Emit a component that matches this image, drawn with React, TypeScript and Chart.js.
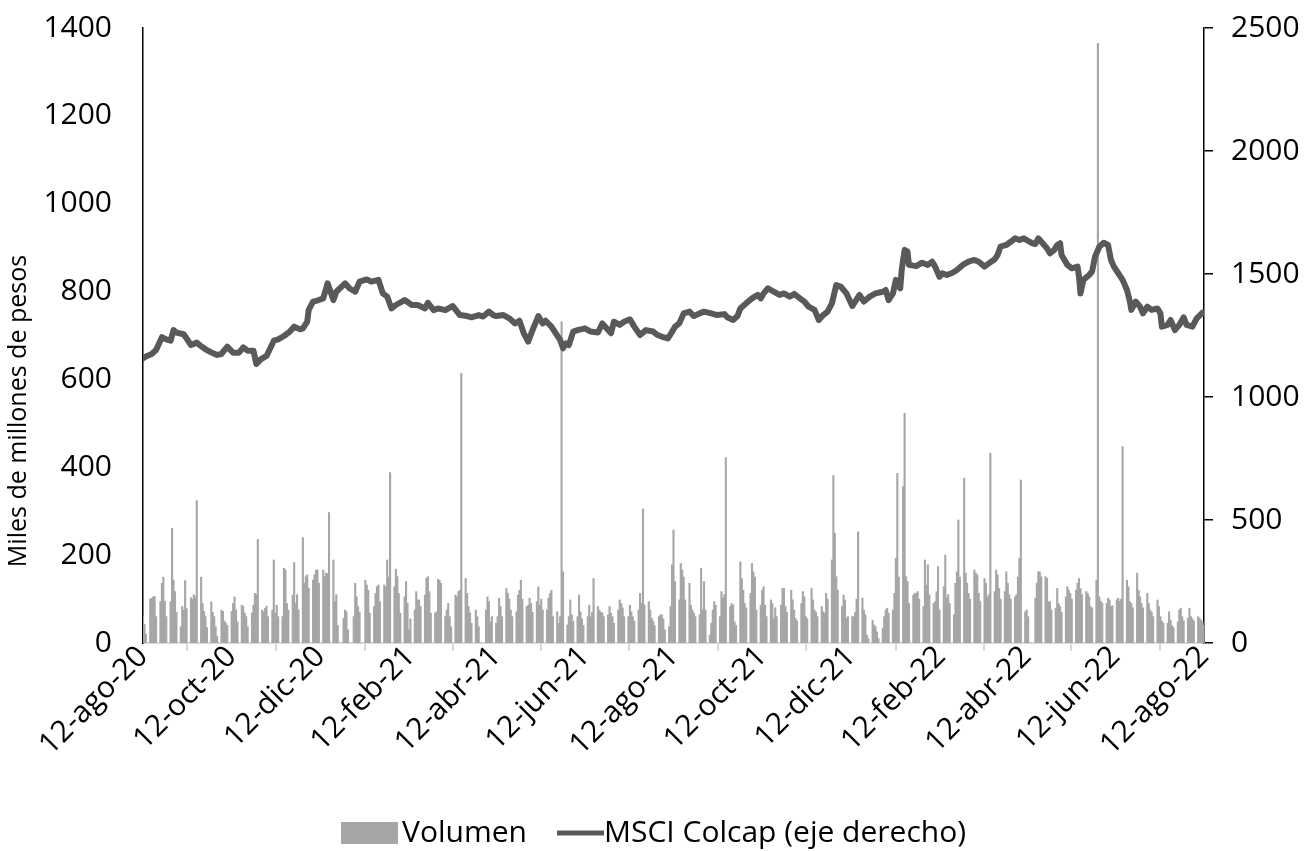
import React, { useEffect, useRef } from "react";
import { Chart, registerables } from "chart.js";

Chart.register(...registerables);

const FONT = "'Open Sans', 'DejaVu Sans', sans-serif";

// Eje X: fechas de las marcas y sus etiquetas
const startDate = "2020-08-12";
const endDate = "2022-08-12";
const tickDates = [
  "2020-08-12", "2020-10-12", "2020-12-12", "2021-02-12", "2021-04-12", "2021-06-12", "2021-08-12",
  "2021-10-12", "2021-12-12", "2022-02-12", "2022-04-12", "2022-06-12", "2022-08-12",
];
const tickLabels = [
  "12-ago-20", "12-oct-20", "12-dic-20", "12-feb-21", "12-abr-21", "12-jun-21", "12-ago-21",
  "12-oct-21", "12-dic-21", "12-feb-22", "12-abr-22", "12-jun-22", "12-ago-22",
];

const seriesLabels = ["Volumen", "MSCI Colcap (eje derecho)"];

// Volumen diario (miles de millones de pesos), días hábiles desde 12-ago-20, una semana por renglón
const volumen = [
  60, 42, 20,
  100, 102, 105, 106, 60,
  94, 136, 150, 95, 60,
  94, 261, 143, 117, 70,
  37, 83, 75, 142, 78,
  103, 100, 110, 105, 324,
  150, 90, 72, 60, 35,
  94, 70, 60, 37, 15,
  75, 72, 50, 45, 40,
  72, 90, 105, 75, 48,
  86, 83, 68, 60, 37,
  68, 86, 113, 110, 236,
  75, 71, 79, 84, 60,
  75, 189, 68, 86, 60,
  60, 170, 166, 90, 75,
  109, 183, 90, 110, 75,
  240, 136, 151, 155, 125,
  143, 155, 166, 166, 136,
  166, 151, 159, 158, 297,
  189, 94, 110, 40, 0,
  56, 75, 71, 30, 0,
  60, 136, 105, 83, 70,
  0, 143, 132, 120, 68,
  83, 113, 128, 132, 94,
  132, 128, 189, 150, 388,
  128, 168, 151, 113, 68,
  105, 140, 90, 30, 55,
  75, 117, 98, 98, 83,
  109, 147, 151, 117, 68,
  68, 71, 145, 143, 136,
  60, 75, 90, 60, 37,
  109, 105, 117, 120, 614,
  147, 113, 83, 68, 45,
  75, 60, 37, 0, 0,
  75, 105, 94, 48, 60,
  45, 60, 102, 83, 60,
  124, 113, 100, 75, 60,
  71, 109, 120, 143, 100,
  83, 86, 102, 90, 70,
  94, 128, 86, 100, 75,
  75, 102, 113, 120, 60,
  71, 45, 60, 731, 162,
  41, 60, 98, 64, 50,
  60, 109, 71, 55, 40,
  60, 86, 60, 70, 147,
  83, 75, 70, 69, 60,
  64, 83, 68, 60, 45,
  75, 98, 90, 80, 60,
  60, 86, 71, 60, 50,
  75, 113, 90, 305, 86,
  94, 75, 56, 50, 40,
  60, 64, 64, 55, 30,
  37, 83, 178, 257, 140,
  98, 181, 166, 150, 98,
  136, 86, 75, 68, 60,
  64, 170, 75, 140, 75,
  18, 45, 75, 94, 86,
  60, 117, 102, 110, 422,
  83, 90, 86, 48, 40,
  185, 147, 120, 90, 80,
  113, 181, 162, 150, 75,
  86, 120, 128, 86, 60,
  98, 90, 56, 80, 60,
  86, 124, 124, 83, 70,
  120, 98, 75, 56, 50,
  90, 117, 105, 60, 55,
  124, 98, 75, 70, 60,
  83, 71, 68, 113, 100,
  189, 381, 250, 151, 120,
  83, 109, 98, 56, 60,
  60, 60, 70, 100, 253,
  102, 75, 64, 18, 10,
  52, 41, 37, 25, 10,
  33, 60, 75, 79, 68,
  75, 113, 193, 386, 150,
  356, 523, 151, 140, 90,
  109, 113, 113, 117, 100,
  83, 189, 132, 178, 110,
  90, 94, 117, 174, 75,
  128, 200, 102, 110, 90,
  64, 136, 162, 280, 150,
  375, 159, 136, 113, 100,
  166, 159, 155, 113, 95,
  147, 136, 105, 110, 432,
  117, 166, 155, 124, 100,
  117, 162, 136, 110, 100,
  105, 110, 150, 193, 371,
  71, 75, 60, 0, 0,
  102, 136, 162, 162, 151,
  151, 147, 94, 94, 75,
  79, 124, 90, 83, 70,
  105, 128, 120, 113, 100,
  120, 136, 147, 124, 110,
  117, 113, 105, 83, 80,
  143, 1365, 105, 95, 90,
  90, 102, 98, 83, 85,
  98, 102, 95, 100, 447,
  143, 128, 94, 90, 80,
  159, 120, 105, 90, 80,
  113, 90, 75, 70, 60,
  98, 83, 60, 50, 45,
  45, 71, 52, 40, 35,
  48, 75, 79, 60, 50,
  56, 79, 60, 55, 50,
  60, 56, 52, 48, 40,
];

// MSCI Colcap: días transcurridos desde 12-ago-20 y nivel del índice
const colcapDia = [
  0, 2, 6, 9, 13, 16, 19, 21, 23, 28, 30, 33, 37, 39, 43, 46, 51, 54, 58, 62, 66, 69, 72, 76, 78, 81, 85, 90, 93, 97,
  101, 104, 108, 110, 113, 114, 117, 120, 124, 127, 131, 133, 139, 142, 146, 149, 154, 157, 162, 165, 168, 171, 174,
  180, 185, 189, 194, 196, 200, 203, 208, 213, 218, 223, 226, 231, 234, 238, 241, 243, 248, 252, 256, 259, 262, 265,
  268, 272, 275, 277, 281, 284, 287, 289, 291, 293, 296, 299, 304, 308, 313, 316, 320, 322, 324, 328, 331, 335, 338,
  342, 346, 351, 354, 358, 361, 363, 366, 369, 372, 376, 379, 383, 386, 391, 395, 400, 402, 406, 409, 411, 415, 419,
  423, 425, 427, 430, 434, 438, 441, 445, 448, 452, 455, 458, 462, 465, 468, 471, 474, 477, 480, 484, 488, 490, 493,
  496, 500, 504, 509, 511, 513, 516, 518, 521, 522, 524, 526, 527, 532, 536, 540, 543, 545, 548, 550, 553, 557, 560,
  564, 568, 572, 575, 579, 582, 586, 588, 590, 594, 597, 600, 603, 606, 610, 612, 614, 616, 620, 622, 624, 627, 629,
  631, 632, 636, 639, 643, 644, 645, 647, 651, 653, 655, 658, 661, 664, 666, 668, 671, 674, 677, 679, 680, 683, 686,
  688, 691, 694, 698, 700, 701, 705, 707, 710, 713, 716, 718, 722, 725, 729, 730,
];
const colcapValor = [
  1157, 1165, 1175, 1191, 1243, 1234, 1229, 1272, 1262, 1255, 1238, 1211, 1221, 1211, 1194, 1184, 1171, 1175, 1205,
  1180, 1180, 1202, 1188, 1188, 1134, 1153, 1167, 1229, 1234, 1248,
  1266, 1286, 1275, 1279, 1306, 1354, 1388, 1392, 1401, 1462, 1394, 1428, 1462, 1442, 1428, 1469, 1478, 1469, 1476,
  1421, 1408, 1360, 1374,
  1394, 1374, 1374, 1360, 1383, 1353, 1360, 1353, 1370, 1333, 1329, 1324, 1333, 1327, 1347, 1333, 1329, 1333, 1320,
  1299, 1310, 1259, 1225,
  1272, 1329, 1299, 1310, 1286, 1259, 1232, 1198, 1218, 1211, 1266, 1272, 1279, 1266, 1262, 1299, 1272, 1259, 1306,
  1293, 1306, 1316, 1286,
  1252, 1272, 1266, 1252, 1243, 1238, 1255, 1285, 1300, 1340, 1347, 1329, 1340, 1347, 1340, 1333, 1337, 1324, 1313,
  1329, 1360, 1381, 1401,
  1415, 1401, 1421, 1442, 1428, 1415, 1421, 1408, 1419, 1401, 1388, 1367, 1354, 1313, 1333, 1347, 1381, 1455, 1449,
  1421, 1370, 1388, 1415,
  1388, 1408, 1421, 1428, 1435, 1394, 1421, 1476, 1442, 1516, 1598, 1591, 1537, 1532, 1546, 1537, 1550, 1530, 1489,
  1503, 1496, 1505, 1516,
  1537, 1550, 1557, 1550, 1530, 1543, 1560, 1577, 1611, 1618, 1631, 1645, 1638, 1645, 1631, 1625, 1622, 1645, 1618,
  1604, 1584, 1598, 1618,
  1625, 1577, 1537, 1523, 1530, 1489, 1421, 1476, 1496, 1510, 1570, 1611, 1627, 1618, 1557, 1530, 1503, 1476, 1435,
  1388, 1354, 1388, 1367,
  1340, 1367, 1354, 1360, 1340, 1286, 1293, 1313, 1272, 1293, 1324, 1293, 1286, 1320, 1343, 1340,
];

const DAY = 86400000;
const t0 = Date.parse(startDate + "T00:00:00Z");
const dayOf = (s: string) => Math.round((Date.parse(s + "T00:00:00Z") - t0) / DAY);
const totalDays = dayOf(endDate);

function weekdayOffsets(): number[] {
  const out: number[] = [];
  for (let d = 0; d <= totalDays; d++) {
    const dow = new Date(t0 + d * DAY).getUTCDay();
    if (dow !== 0 && dow !== 6) out.push(d);
  }
  return out;
}

const decorPlugin = {
  id: "decor",
  afterDraw(chart: any) {
    const ctx = chart.ctx as CanvasRenderingContext2D;
    const ds = chart.data.datasets;
    // Título del eje izquierdo
    ctx.save();
    ctx.fillStyle = "#000";
    ctx.font = `25px ${FONT}`;
    ctx.translate(19, 411);
    ctx.rotate(-Math.PI / 2);
    ctx.textAlign = "center";
    ctx.textBaseline = "middle";
    ctx.fillText("Miles de millones de pesos", 0, 0);
    ctx.restore();
    // Leyenda
    ctx.save();
    ctx.font = `30px ${FONT}`;
    ctx.textBaseline = "middle";
    ctx.textAlign = "left";
    const ly = 833;
    ctx.fillStyle = ds[0].backgroundColor;
    ctx.fillRect(341, ly - 11, 57, 22);
    ctx.fillStyle = "#000";
    ctx.fillText(ds[0].label, 402, ly);
    ctx.strokeStyle = ds[1].borderColor;
    ctx.lineWidth = 5;
    ctx.beginPath();
    ctx.moveTo(557, ly);
    ctx.lineTo(604, ly);
    ctx.stroke();
    ctx.fillText(ds[1].label, 604, ly);
    ctx.restore();
  },
};

export default function App() {
  const ref = useRef<HTMLCanvasElement | null>(null);

  useEffect(() => {
    if (!ref.current) return;
    const days = weekdayOffsets();
    const n = Math.min(days.length, volumen.length);
    const barData = [] as { x: number; y: number }[];
    for (let i = 0; i < n; i++) barData.push({ x: days[i], y: volumen[i] });
    const lineData = colcapDia.map((d, i) => ({ x: d, y: colcapValor[i] }));
    const tickValues = tickDates.map(dayOf);

    const tickFont = { family: FONT, size: 30 };
    const plain = (v: any) => String(v);

    const chart = new Chart(ref.current, {
      type: "bar",
      data: {
        datasets: [
          {
            type: "bar",
            label: seriesLabels[0],
            data: barData,
            yAxisID: "y",
            backgroundColor: "#A6A6A6",
            barPercentage: 1,
            categoryPercentage: 1,
            order: 2,
          } as any,
          {
            type: "line",
            label: seriesLabels[1],
            data: lineData,
            yAxisID: "y2",
            borderColor: "#595959",
            backgroundColor: "#595959",
            borderWidth: 6,
            pointRadius: 0,
            tension: 0,
            borderJoinStyle: "round",
            borderCapStyle: "round",
            order: 1,
          } as any,
        ],
      },
      options: {
        animation: false,
        responsive: false,
        devicePixelRatio: 1,
        layout: { padding: { top: 28, left: 0, right: 0, bottom: 0 } },
        plugins: { legend: { display: false }, tooltip: { enabled: false } },
        scales: {
          x: {
            type: "linear",
            position: "bottom",
            min: 0,
            max: totalDays,
            offset: false,
            afterBuildTicks: (s: any) => {
              s.ticks = tickValues.map((v) => ({ value: v }));
            },
            afterFit: (s: any) => {
              s.height = 208;
            },
            ticks: {
              autoSkip: false,
              minRotation: 45,
              maxRotation: 45,
              font: tickFont,
              color: "#000",
              padding: -12,
              callback: (v: any) => {
                const i = tickValues.indexOf(Number(v));
                return i >= 0 ? tickLabels[i] : "";
              },
            },
            grid: { drawOnChartArea: false, drawTicks: true, tickLength: 8, color: "#D9D9D9", lineWidth: 2 },
            border: { display: true, color: "#D9D9D9", width: 2 },
          },
          y: {
            type: "linear",
            position: "left",
            min: 0,
            max: 1400,
            afterFit: (s: any) => {
              s.width = 143;
              s.paddingTop = 0;
              s.paddingBottom = 0;
            },
            ticks: { stepSize: 200, font: tickFont, color: "#000", padding: 31, callback: plain },
            grid: { display: false, drawTicks: false },
            border: { display: true, color: "#000", width: 1.5 },
          },
          y2: {
            type: "linear",
            position: "right",
            min: 0,
            max: 2500,
            afterFit: (s: any) => {
              s.width = 107;
              s.paddingTop = 0;
              s.paddingBottom = 0;
            },
            ticks: { stepSize: 500, font: tickFont, color: "#000", padding: 18, callback: plain },
            grid: { drawOnChartArea: false, drawTicks: true, tickLength: 9, color: "#000", lineWidth: 1.5 },
            border: { display: true, color: "#000", width: 1.5 },
          },
        },
      } as any,
      plugins: [decorPlugin as any],
    });
    return () => chart.destroy();
  }, []);

  return (
    <div style={{ position: "fixed", left: 0, top: 0, width: 1311, height: 851, background: "#fff" }}>
      <canvas ref={ref} width={1311} height={851} style={{ width: 1311, height: 851, display: "block" }} />
    </div>
  );
}
